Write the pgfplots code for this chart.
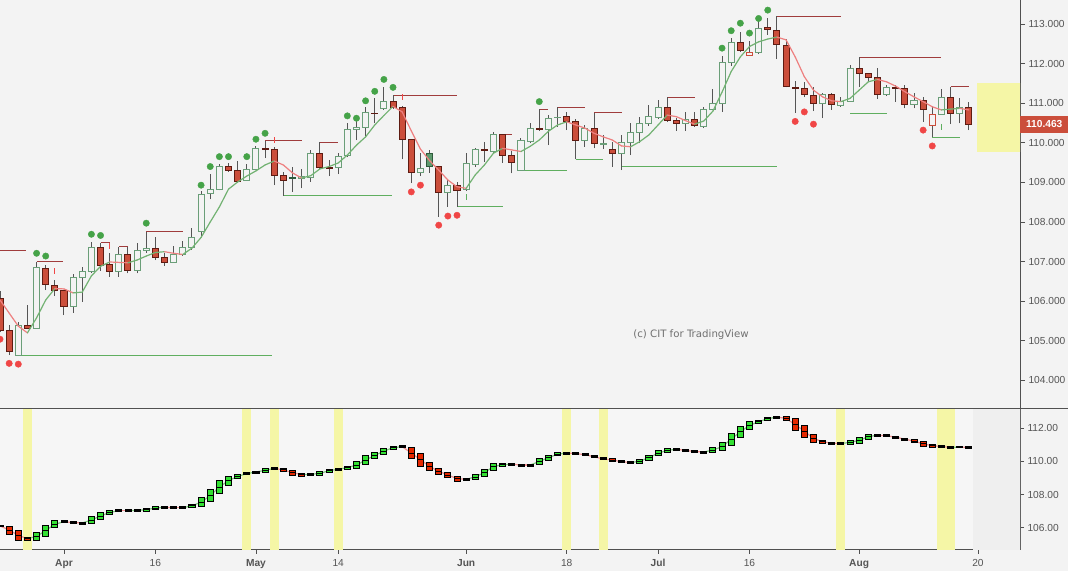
\documentclass[border=0pt]{standalone}
\usepackage{pgfplots}
\pgfplotsset{compat=1.18}
\usepackage{pgfplotstable}
\usepackage{fontspec}
\setmainfont{Liberation Sans}
\newfontfamily\dejavu{DejaVu Sans}
\definecolor{bg}{HTML}{F3F3F3}
\definecolor{bglow}{HTML}{F6F6F6}
\definecolor{bgstrip}{HTML}{EFEFEF}
\definecolor{axc}{HTML}{505050}
\definecolor{labc}{HTML}{555555}
\definecolor{cgb}{HTML}{6A9E78}
\definecolor{crf}{HTML}{CB4E3B}
\definecolor{crb}{HTML}{5E1B12}
\definecolor{cdgf}{HTML}{5E9A6E}
\definecolor{cdgb}{HTML}{2E5A3B}
\definecolor{wickc}{HTML}{555555}
\definecolor{mag}{HTML}{72B272}
\definecolor{mar}{HTML}{EE8080}
\definecolor{dotg}{HTML}{45A348}
\definecolor{dotr}{HTML}{F04646}
\definecolor{resl}{HTML}{A03C3C}
\definecolor{supl}{HTML}{5FAE5F}
\definecolor{lgr}{HTML}{33E033}
\definecolor{lrd}{HTML}{E52800}
\definecolor{lmag}{HTML}{80C880}
\definecolor{lmar}{HTML}{F09090}
\definecolor{band}{HTML}{F5F6A6}
\definecolor{pricebox}{HTML}{CB4E3B}
\definecolor{wm}{HTML}{707070}

\tikzset{
  wick/.style={draw=wickc, line width=1pt},
  candle0/.style={draw=cgb, fill=bg, line width=1pt},
  candle1/.style={draw=crb, fill=crf, line width=1pt},
  candle2/.style={draw=cdgb, fill=cdgf, line width=1pt},
  candle3/.style={draw=crf, fill=bg, line width=1pt},
  ma0/.style={draw=mar, line width=1.2pt, line cap=round},
  ma1/.style={draw=mag, line width=1.2pt, line cap=round},
  lma0/.style={draw=lmar, line width=1.2pt, line cap=round},
  lma1/.style={draw=lmag, line width=1.2pt, line cap=round},
  lbox0/.style={draw=black, fill=lgr, line width=0.9pt},
  lbox1/.style={draw=black, fill=lrd, line width=0.9pt},
  lbox2/.style={draw=black, fill=black, line width=0.9pt},
  lmidl/.style={draw=black, line width=0.8pt},
}

% i open high low close kind ma
\pgfplotstableread{
i o h l c k m
-7 106.08 106.25 105.22 105.27 1 106.03
-6 105.27 105.40 104.64 104.72 1 105.70
-5 104.64 105.48 104.62 105.39 0 105.37
-4 105.39 105.90 105.30 105.31 1 105.20
-3 105.32 107.00 105.32 106.84 0 105.58
-2 106.83 106.91 106.28 106.41 1 106.03
-1 106.40 106.53 106.13 106.26 1 106.32
0 106.26 106.28 105.65 105.86 1 106.31
1 105.86 106.69 105.71 106.60 0 106.21
2 106.60 106.87 105.99 106.76 0 106.23
3 106.75 107.50 106.72 107.36 0 106.64
4 107.36 107.48 106.77 106.90 1 106.88
5 106.93 107.21 106.62 106.74 1 106.99
6 106.74 107.38 106.62 107.19 0 106.98
7 107.19 107.38 106.70 106.77 1 106.97
8 106.77 107.46 106.70 107.28 0 107.04
9 107.28 107.75 107.22 107.34 0 107.14
10 107.34 107.61 107.04 107.11 1 107.23
11 107.11 107.22 106.89 106.97 1 107.25
12 106.97 107.39 106.97 107.19 0 107.21
13 107.19 107.53 107.15 107.36 0 107.18
14 107.36 107.84 107.30 107.61 0 107.34
15 107.76 108.78 107.65 108.70 0 107.61
16 108.71 109.21 108.57 108.81 0 108.00
17 108.81 109.46 108.80 109.40 0 108.38
18 109.41 109.50 109.27 109.31 1 108.83
19 109.31 109.55 108.99 109.02 1 109.01
20 109.06 109.46 109.04 109.33 0 109.16
21 109.33 109.92 109.32 109.86 0 109.29
22 109.86 110.05 109.61 109.84 1 109.44
23 109.84 109.90 108.93 109.18 1 109.54
24 109.18 109.27 108.66 109.05 1 109.44
25 109.13 109.40 108.77 109.10 2 109.24
26 109.09 109.35 108.85 109.14 0 109.11
27 109.13 109.83 109.02 109.73 0 109.17
28 109.73 110.02 109.35 109.37 1 109.34
29 109.37 109.57 109.16 109.35 1 109.40
30 109.38 109.73 109.21 109.65 0 109.49
31 109.67 110.49 109.63 110.34 0 109.69
32 110.34 110.62 110.07 110.39 0 109.94
33 110.39 110.90 110.17 110.76 0 110.15
34 110.75 111.12 110.49 110.73 1 110.45
35 110.87 111.42 110.83 111.04 0 110.69
36 111.04 111.20 110.85 110.90 1 110.92
37 110.90 110.92 109.58 110.09 1 110.78
38 110.09 110.10 108.98 109.24 1 110.30
39 109.26 109.73 109.16 109.36 0 109.84
40 109.73 109.83 109.24 109.40 2 109.55
41 109.40 109.42 108.13 108.75 1 109.31
42 108.75 109.06 108.39 108.91 0 109.06
43 108.91 109.02 108.39 108.80 1 108.89
44 108.83 109.73 108.79 109.48 0 108.85
45 109.44 109.87 109.40 109.82 0 109.19
46 109.82 110.03 109.52 109.80 1 109.44
47 109.77 110.27 109.73 110.20 0 109.74
48 110.20 110.22 109.50 109.68 1 109.86
49 109.68 109.80 109.23 109.50 1 109.82
50 109.30 110.11 109.30 110.05 0 109.78
51 110.03 110.51 109.99 110.37 0 109.91
52 110.36 110.85 110.30 110.34 1 110.07
53 110.34 110.70 109.94 110.62 0 110.29
54 110.63 110.90 110.41 110.65 0 110.45
55 110.66 110.78 110.32 110.53 1 110.53
56 110.53 110.60 109.58 110.07 1 110.45
57 110.07 110.45 109.90 110.37 0 110.37
58 110.37 110.76 109.86 109.97 1 110.24
59 109.96 110.20 109.84 109.98 0 110.15
60 109.84 110.03 109.40 109.72 1 110.07
61 109.74 110.20 109.31 110.00 0 109.92
62 110.00 110.49 109.69 110.25 0 109.90
63 110.25 110.66 109.99 110.49 0 110.03
64 110.49 110.95 110.42 110.67 0 110.20
65 110.63 111.08 110.60 110.90 0 110.45
66 110.90 111.15 110.53 110.56 1 110.70
67 110.56 110.62 110.31 110.49 1 110.66
68 110.49 110.78 110.31 110.59 0 110.56
69 110.59 110.78 110.41 110.43 1 110.47
70 110.41 110.90 110.37 110.85 0 110.55
71 110.83 111.35 110.83 111.00 0 110.80
72 111.00 112.19 110.78 112.03 0 111.28
73 112.03 112.65 111.94 112.54 0 111.80
74 112.54 112.80 112.30 112.33 1 112.17
75 112.21 112.58 112.20 112.29 3 112.43
76 112.28 113.10 112.24 112.89 0 112.55
77 112.90 113.14 112.73 112.86 1 112.62
78 112.83 113.20 112.11 112.47 1 112.67
79 112.45 112.61 111.40 111.42 1 112.60
80 111.39 111.57 110.76 111.36 1 112.17
81 111.36 111.54 111.15 111.21 1 111.67
82 111.19 111.40 110.80 111.00 1 111.33
83 111.00 111.25 110.62 111.22 0 111.16
84 111.22 111.25 110.83 110.97 1 111.06
85 110.95 111.16 110.91 111.04 0 111.04
86 111.04 111.96 111.04 111.88 0 111.12
87 111.88 112.16 111.42 111.74 1 111.33
88 111.74 111.77 111.54 111.65 1 111.54
89 111.65 111.88 111.11 111.22 1 111.60
90 111.22 111.46 111.18 111.40 0 111.54
91 111.39 111.46 111.04 111.37 1 111.43
92 111.38 111.46 110.87 110.97 1 111.29
93 110.97 111.25 110.87 111.08 0 111.16
94 111.08 111.16 110.53 110.83 1 111.04
95 110.44 110.93 110.15 110.72 3 110.91
96 110.72 111.35 110.71 111.15 0 110.83
97 111.15 111.42 110.47 110.74 1 110.85
98 110.74 111.12 110.49 110.89 0 110.87
99 110.89 111.04 110.32 110.47 1 110.83
}\candles

% lower panel boxes: i top bottom kind
\pgfplotstableread{
i t b k
-7 106.16 106.04 2
-6 106.10 105.61 1
-5 105.81 105.25 1
-4 105.41 105.25 1
-3 105.69 105.25 0
-2 106.16 105.49 0
-1 106.42 105.98 0
0 106.42 106.30 2
1 106.36 106.24 2
2 106.34 106.22 2
3 106.66 106.26 0
4 106.90 106.50 0
5 107.02 106.82 0
6 107.08 106.96 2
7 107.08 106.96 2
8 107.11 106.98 2
9 107.17 107.00 0
10 107.26 107.11 0
11 107.29 107.17 2
12 107.26 107.14 2
13 107.26 107.14 2
14 107.41 107.23 0
15 107.81 107.26 0
16 108.31 107.56 0
17 108.83 108.07 0
18 109.12 108.56 0
19 109.24 108.95 0
20 109.32 109.20 2
21 109.42 109.30 2
22 109.56 109.36 0
23 109.64 109.52 0
24 109.60 109.38 1
25 109.48 109.16 1
26 109.28 109.12 1
27 109.28 109.16 2
28 109.38 109.18 0
29 109.52 109.36 0
30 109.58 109.46 2
31 109.72 109.54 0
32 109.98 109.58 0
33 110.33 109.84 0
34 110.53 110.19 0
35 110.79 110.45 0
36 110.93 110.73 0
37 110.95 110.83 2
38 110.83 110.19 1
39 110.49 109.72 1
40 109.95 109.44 1
41 109.58 109.22 1
42 109.32 109.04 1
43 109.12 108.80 1
44 108.98 108.86 2
45 109.24 108.88 0
46 109.54 109.12 0
47 109.89 109.48 0
48 109.89 109.72 0
49 109.89 109.78 2
50 109.84 109.72 1
51 109.84 109.72 2
52 110.15 109.84 0
53 110.39 110.07 0
54 110.53 110.33 0
55 110.57 110.45 2
56 110.53 110.41 2
57 110.49 110.33 1
58 110.34 110.21 1
59 110.21 110.09 2
60 110.16 110.01 1
61 110.04 109.92 1
62 109.98 109.89 2
63 110.13 109.89 0
64 110.39 110.08 0
65 110.65 110.33 0
66 110.79 110.55 0
67 110.79 110.67 2
68 110.73 110.61 2
69 110.65 110.53 1
70 110.63 110.51 2
71 110.83 110.54 0
72 111.13 110.65 0
73 111.70 110.99 0
74 112.14 111.46 0
75 112.40 111.94 0
76 112.50 112.30 0
77 112.66 112.50 0
78 112.74 112.62 2
79 112.74 112.46 1
80 112.60 111.85 1
81 112.20 111.46 1
82 111.64 111.13 1
83 111.29 111.09 1
84 111.15 111.05 2
85 111.13 111.03 2
86 111.25 111.05 0
87 111.46 111.09 0
88 111.64 111.34 0
89 111.64 111.53 1
90 111.61 111.49 1
91 111.53 111.40 1
92 111.40 111.28 2
93 111.34 111.13 1
94 111.19 110.93 1
95 111.05 110.85 1
96 110.95 110.85 2
97 110.89 110.81 2
98 110.91 110.83 2
99 110.91 110.79 2
}\hadata

\pgfplotstableread{
x y
-7.2 107.29
-4.2 107.29
nan nan
-3 107.00
-0.1 107.00
nan nan
4 107.48
5 107.48
nan nan
6 107.39
7 107.39
nan nan
9 107.75
13 107.75
nan nan
22 110.05
26 110.05
nan nan
28 110.02
30 110.02
nan nan
36 111.20
43 111.20
nan nan
48 110.22
49 110.22
nan nan
52 110.85
53 110.85
nan nan
54 110.90
57 110.90
nan nan
58 110.76
61 110.76
nan nan
66 111.15
69 111.15
nan nan
78 113.20
85 113.20
nan nan
87 112.16
96 112.16
nan nan
97 111.42
99 111.42
}\reslines

\pgfplotstableread{
x y
-5 104.62
22.8 104.62
nan nan
24 108.66
35.9 108.66
nan nan
43 108.39
48 108.39
nan nan
50.2 109.30
55 109.30
nan nan
56 109.57
59 109.57
nan nan
61 109.40
78 109.40
nan nan
86 110.74
90 110.74
nan nan
95 110.13
98 110.13
}\suplines

\pgfplotstableread{
x y
-3 107.21
-2 107.14
3 107.69
4 107.66
9 107.97
15 108.93
16 109.40
17 109.65
18 109.65
20 109.65
21 110.09
22 110.24
31 110.68
32 110.62
33 111.06
34 111.30
35 111.60
36 111.40
52 111.04
72 112.39
73 112.83
74 113.02
75 112.77
76 113.14
77 113.35
}\gdots

\pgfplotstableread{
x y
-7 105.04
-6 104.43
-5 104.41
38 108.76
39 108.93
41 107.92
42 108.15
43 108.17
80 110.54
81 110.78
82 110.47
94 110.32
95 109.92
}\rdots

\begin{document}
\begin{tikzpicture}
\useasboundingbox (0pt,0pt) rectangle (1068pt,571pt);
\fill[bg] (0pt,0pt) rectangle (1068pt,571pt);

\pgfplotstablegetrowsof{\candles}
\pgfmathtruncatemacro\NC{\pgfplotsretval-1}
\pgfplotstablegetrowsof{\hadata}
\pgfmathtruncatemacro\NH{\pgfplotsretval-1}

% ---------------- upper panel ----------------
\begin{axis}[
  at={(0pt,163pt)}, anchor=south west,
  width=1020pt, height=408pt, scale only axis,
  xmin=-7.002, xmax=104.6, ymin=103.303, ymax=113.606,
  axis x line=none, axis y line=right,
  axis line style={-, draw=axc, line width=1pt},
  ytick={104,105,106,107,108,109,110,111,112,113},
  yticklabels={104.000,105.000,106.000,107.000,108.000,109.000,110.000,111.000,112.000,113.000},
  tick align=outside, major tick length=5pt,
  tick style={draw=axc, line width=0.8pt},
  tick label style={font=\fontsize{10.2}{12}\selectfont, text=labc},
  clip mode=individual,
  unbounded coords=jump,
]
\addplot[fill=band, draw=none] coordinates {(99.9,109.775) (104.7,109.775) (104.7,111.50) (99.9,111.50)} -- cycle;
\addplot[draw=resl, line width=1pt] table[x=x,y=y] {\reslines};
\addplot[draw=supl, line width=1pt] table[x=x,y=y] {\suplines};

\pgfplotsforeachungrouped \r in {0,...,\NC}{%
  \pgfplotstablegetelem{\r}{i}\of\candles \let\ci\pgfplotsretval
  \pgfplotstablegetelem{\r}{o}\of\candles \let\co\pgfplotsretval
  \pgfplotstablegetelem{\r}{h}\of\candles \let\ch\pgfplotsretval
  \pgfplotstablegetelem{\r}{l}\of\candles \let\cl\pgfplotsretval
  \pgfplotstablegetelem{\r}{c}\of\candles \let\cc\pgfplotsretval
  \pgfplotstablegetelem{\r}{k}\of\candles \let\ck\pgfplotsretval
  \pgfmathsetmacro\xa{\ci-0.33}%
  \pgfmathsetmacro\xb{\ci+0.33}%
  \edef\cmd{\noexpand\addplot[wick] coordinates {(\ci,\cl) (\ci,\ch)};%
    \noexpand\addplot[candle\ck] coordinates {(\xa,\co) (\xb,\co) (\xb,\cc) (\xa,\cc)} -- cycle;}%
  \cmd
}

\pgfplotsforeachungrouped \r in {1,...,\NC}{%
  \pgfmathtruncatemacro\rp{\r-1}%
  \pgfplotstablegetelem{\rp}{i}\of\candles \let\sxa\pgfplotsretval
  \pgfplotstablegetelem{\rp}{m}\of\candles \let\sva\pgfplotsretval
  \pgfplotstablegetelem{\r}{i}\of\candles \let\sxb\pgfplotsretval
  \pgfplotstablegetelem{\r}{m}\of\candles \let\svb\pgfplotsretval
  \pgfmathtruncatemacro\dir{(\svb>\sva) ? 1 : 0}%
  \edef\cmd{\noexpand\addplot[ma\dir] coordinates {(\sxa,\sva) (\sxb,\svb)};}%
  \cmd
}

\addplot[only marks, mark=*, mark size=3.2pt, color=dotg] table[x=x,y=y] {\gdots};
\addplot[only marks, mark=*, mark size=3.2pt, color=dotr] table[x=x,y=y] {\rdots};
\addplot[only marks, mark=|, mark size=3pt, color=dotr, line width=0.8pt] coordinates {(-1,106.75) (5,107.40) (23,110.06) (37,111.15)};
\addplot[only marks, mark=|, mark size=3pt, color=supl, line width=0.8pt] coordinates {(44,108.62) (96,110.40)};

\node[font=\dejavu\fontsize{10.2}{12}\selectfont, text=wm] at (axis cs:68.6,105.15) {(c) CIT for TradingView};
\node[fill=pricebox, text=white, font=\bfseries\fontsize{10.2}{12}\selectfont, anchor=west,
      minimum width=48pt, minimum height=16.5pt, inner sep=0pt] at (axis cs:104.6,110.463) {110.463};
\end{axis}

% ---------------- lower panel ----------------
\begin{axis}[
  at={(0pt,21.3pt)}, anchor=south west,
  width=1020pt, height=141.7pt, scale only axis,
  xmin=-7.002, xmax=104.6, ymin=104.665, ymax=113.227,
  axis x line=bottom, axis y line=right,
  axis line style={-, draw=axc, line width=1pt},
  axis background/.style={fill=bglow},
  xtick={0,10,21,30,44,55,65,75,87,100},
  xticklabels={\textbf{Apr},16,\textbf{May},14,\textbf{Jun},18,\textbf{Jul},16,\textbf{Aug},20},
  ytick={106,108,110,112},
  yticklabels={106.00,108.00,110.00,112.00},
  tick align=outside, major tick length=4pt,
  tick style={draw=axc, line width=0.8pt},
  tick label style={font=\fontsize{10.2}{12}\selectfont, text=labc},
  xticklabel style={anchor=north, yshift=-2pt},
  clip mode=individual,
]
\addplot[fill=bgstrip, draw=none] coordinates {(99.5,104.5) (104.7,104.5) (104.7,113.4) (99.5,113.4)} -- cycle;
\addplot[fill=band, draw=none] coordinates {(-4.5,104.5) (-3.5,104.5) (-3.5,113.4) (-4.5,113.4)} -- cycle;
\addplot[fill=band, draw=none] coordinates {(19.5,104.5) (20.5,104.5) (20.5,113.4) (19.5,113.4)} -- cycle;
\addplot[fill=band, draw=none] coordinates {(22.5,104.5) (23.5,104.5) (23.5,113.4) (22.5,113.4)} -- cycle;
\addplot[fill=band, draw=none] coordinates {(29.5,104.5) (30.5,104.5) (30.5,113.4) (29.5,113.4)} -- cycle;
\addplot[fill=band, draw=none] coordinates {(54.5,104.5) (55.5,104.5) (55.5,113.4) (54.5,113.4)} -- cycle;
\addplot[fill=band, draw=none] coordinates {(58.5,104.5) (59.5,104.5) (59.5,113.4) (58.5,113.4)} -- cycle;
\addplot[fill=band, draw=none] coordinates {(84.5,104.5) (85.5,104.5) (85.5,113.4) (84.5,113.4)} -- cycle;
\addplot[fill=band, draw=none] coordinates {(95.5,104.5) (97.5,104.5) (97.5,113.4) (95.5,113.4)} -- cycle;

\pgfplotsforeachungrouped \r in {1,...,\NH}{%
  \pgfmathtruncatemacro\rp{\r-1}%
  \pgfplotstablegetelem{\rp}{i}\of\hadata \let\sxa\pgfplotsretval
  \pgfplotstablegetelem{\rp}{t}\of\hadata \let\hta\pgfplotsretval
  \pgfplotstablegetelem{\rp}{b}\of\hadata \let\hba\pgfplotsretval
  \pgfplotstablegetelem{\r}{i}\of\hadata \let\sxb\pgfplotsretval
  \pgfplotstablegetelem{\r}{t}\of\hadata \let\htb\pgfplotsretval
  \pgfplotstablegetelem{\r}{b}\of\hadata \let\hbb\pgfplotsretval
  \pgfmathsetmacro\sva{(\hta+\hba)/2}%
  \pgfmathsetmacro\svb{(\htb+\hbb)/2}%
  \pgfmathtruncatemacro\dir{(\svb>\sva) ? 1 : 0}%
  \edef\cmd{\noexpand\addplot[lma\dir] coordinates {(\sxa,\sva) (\sxb,\svb)};}%
  \cmd
}

\pgfplotsforeachungrouped \r in {0,...,\NH}{%
  \pgfplotstablegetelem{\r}{i}\of\hadata \let\ci\pgfplotsretval
  \pgfplotstablegetelem{\r}{t}\of\hadata \let\hta\pgfplotsretval
  \pgfplotstablegetelem{\r}{b}\of\hadata \let\hba\pgfplotsretval
  \pgfplotstablegetelem{\r}{k}\of\hadata \let\hk\pgfplotsretval
  \pgfmathsetmacro\xa{\ci-0.33}%
  \pgfmathsetmacro\xb{\ci+0.33}%
  \pgfmathsetmacro\hmid{(\hta+\hba)/2}%
  \edef\cmd{\noexpand\addplot[lbox\hk] coordinates {(\xa,\hba) (\xb,\hba) (\xb,\hta) (\xa,\hta)} -- cycle;}%
  \cmd
  \ifnum\hk<2
    \edef\cmd{\noexpand\addplot[lmidl] coordinates {(\xa,\hmid) (\xb,\hmid)};}%
    \cmd
  \fi
}
\end{axis}

\draw[axc, line width=1pt] (0pt,163pt) -- (1068pt,163pt);
\end{tikzpicture}
\end{document}
